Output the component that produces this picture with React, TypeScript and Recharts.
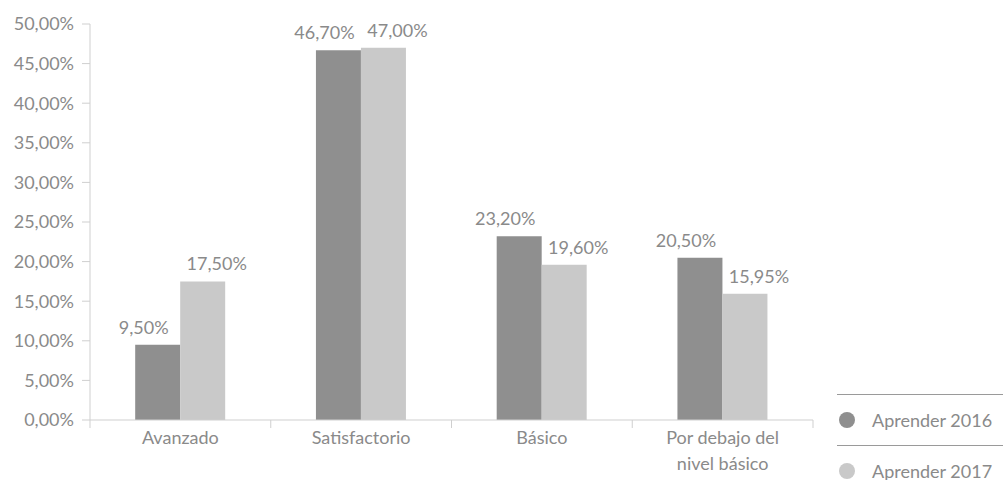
import { BarChart, Bar, XAxis, YAxis, LabelList, Text } from "recharts";

const categories = ["Avanzado", "Satisfactorio", "Básico", "Por debajo del nivel básico"];
const aprender2016 = [9.5, 46.7, 23.2, 20.5];
const aprender2017 = [17.5, 47.0, 19.6, 15.95];
const yTicks = [0, 5, 10, 15, 20, 25, 30, 35, 40, 45, 50];
const seriesNames = ["Aprender 2016", "Aprender 2017"];

const data = categories.map((name, i) => ({
  name,
  a2016: aprender2016[i],
  a2017: aprender2017[i],
}));

const FONT = "Lato, 'Source Sans Pro', sans-serif";
const FS = 18;
const TEXT = "#8a8a8a";
const AXIS = "#cfcfcf";
const DARK = "#8f8f8f";
const LIGHT = "#c9c9c9";

const pct = (v: number) => v.toFixed(2).replace(".", ",") + "%";

function CategoryTick(props: any) {
  const { x, y, payload, index } = props;
  const half = 723 / categories.length / 2;
  return (
    <g>
      <line x1={x - half} x2={x - half} y1={y - 8} y2={y} stroke={AXIS} />
      {index === categories.length - 1 && (
        <line x1={x + half} x2={x + half} y1={y - 8} y2={y} stroke={AXIS} />
      )}
      <Text
        x={x}
        y={y + 3}
        width={122}
        textAnchor="middle"
        verticalAnchor="start"
        lineHeight={26}
        fill={TEXT}
        fontSize={FS}
        fontFamily={FONT}
      >
        {payload.value}
      </Text>
    </g>
  );
}

// value label nudged sideways like the original (dark left, light right)
const makeLabel = (dx: number) => (props: any) => {
  const { x, y, width, value } = props;
  return (
    <text
      x={x + width / 2 + dx}
      y={y - 11}
      textAnchor="middle"
      fill={TEXT}
      fontSize={FS}
      fontFamily={FONT}
    >
      {pct(Number(value))}
    </text>
  );
};

export default function App() {
  return (
    <div style={{ position: "absolute", left: 0, top: 0, width: 1003, height: 480, background: "#fff" }}>
      <BarChart
        width={1003}
        height={480}
        data={data}
        margin={{ top: 24, right: 190, bottom: 0, left: 0 }}
        barCategoryGap="25%"
        barGap={0}
      >
        <XAxis
          dataKey="name"
          stroke={AXIS}
          tickLine={false}
          height={60}
          tick={<CategoryTick />}
          interval={0}
        />
        <YAxis
          width={90}
          domain={[0, 50]}
          ticks={yTicks}
          tickFormatter={pct}
          stroke={AXIS}
          tickSize={8}
          tickMargin={8}
          tick={{ fill: TEXT, fontSize: FS, fontFamily: FONT }}
          interval={0}
        />
        <Bar dataKey="a2016" name={seriesNames[0]} fill={DARK} isAnimationActive={false}>
          <LabelList dataKey="a2016" content={makeLabel(-14)} />
        </Bar>
        <Bar dataKey="a2017" name={seriesNames[1]} fill={LIGHT} isAnimationActive={false}>
          <LabelList dataKey="a2017" content={makeLabel(14)} />
        </Bar>
      </BarChart>
      <div style={{ position: "absolute", left: 837, top: 394, width: 166, fontFamily: FONT, fontSize: FS, color: TEXT }}>
        {seriesNames.map((n, i) => (
          <div
            key={n}
            style={{
              borderTop: "1px solid #9a9a9a",
              height: 51,
              display: "flex",
              alignItems: "center",
              boxSizing: "border-box",
            }}
          >
            <span
              style={{
                display: "inline-block",
                width: 16,
                height: 16,
                borderRadius: "50%",
                background: i === 0 ? DARK : LIGHT,
                marginLeft: 2,
                marginRight: 17,
              }}
            />
            {n}
          </div>
        ))}
      </div>
    </div>
  );
}
